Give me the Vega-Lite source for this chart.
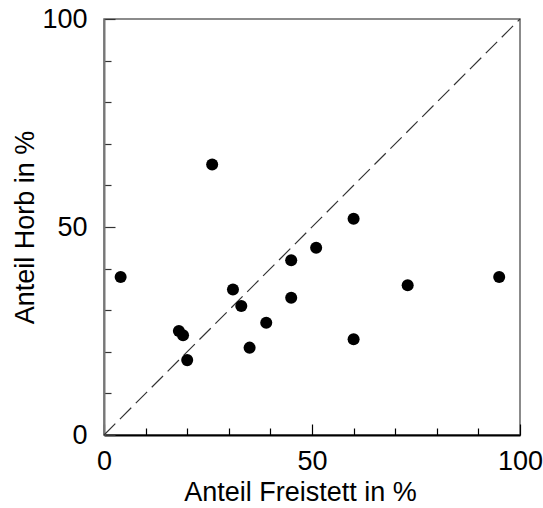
{
  "$schema": "https://vega.github.io/schema/vega-lite/v6.json",
  "width": 416,
  "height": 416,
  "autosize": "none",
  "padding": {"left": 104, "top": 19, "right": 23, "bottom": 73},
  "config": {
    "font": "Liberation Sans",
    "view": {"stroke": "#666666", "strokeWidth": 1.5},
    "axis": {
      "grid": false,
      "labelFlush": false,
      "domainColor": "#000000",
      "domainWidth": 2,
      "tickColor": "#000000",
      "tickWidth": 1.2,
      "labelColor": "#000000",
      "titleColor": "#000000",
      "labelFontSize": 27,
      "titleFontSize": 27,
      "titleFontWeight": "normal",
      "labelFont": "Liberation Sans",
      "titleFont": "Liberation Sans"
    }
  },
  "layer": [
    {
      "data": {"values": [{"a": 0, "b": 0}, {"a": 100, "b": 100}]},
      "mark": {"type": "line", "strokeDash": [16, 6.5], "color": "#333333", "strokeWidth": 1.2},
      "encoding": {
        "x": {"field": "a", "type": "quantitative", "scale": {"domain": [0, 100], "nice": false}},
        "y": {"field": "b", "type": "quantitative", "scale": {"domain": [0, 100], "nice": false}}
      }
    },
    {
      "data": {
        "values": [
          {"freistett": 4, "horb": 38},
          {"freistett": 26, "horb": 65},
          {"freistett": 60, "horb": 52},
          {"freistett": 51, "horb": 45},
          {"freistett": 45, "horb": 42},
          {"freistett": 31, "horb": 35},
          {"freistett": 33, "horb": 31},
          {"freistett": 45, "horb": 33},
          {"freistett": 39, "horb": 27},
          {"freistett": 18, "horb": 25},
          {"freistett": 19, "horb": 24},
          {"freistett": 20, "horb": 18},
          {"freistett": 35, "horb": 21},
          {"freistett": 60, "horb": 23},
          {"freistett": 73, "horb": 36},
          {"freistett": 95, "horb": 38}
        ]
      },
      "mark": {"type": "circle", "size": 145, "color": "#000000", "opacity": 1},
      "encoding": {
        "x": {
          "field": "freistett", "type": "quantitative",
          "scale": {"domain": [0, 100], "nice": false},
          "axis": {
            "title": "Anteil Freistett in %",
            "values": [0, 10, 20, 30, 40, 50, 60, 70, 80, 90, 100],
            "labelExpr": "datum.value % 50 === 0 ? datum.label : ''",
            "tickSize": {"condition": {"test": "datum.value % 50 === 0", "value": -11}, "value": -7},
            "labelPadding": 24,
            "titlePadding": 5,
            "titleX": 196
          }
        },
        "y": {
          "field": "horb", "type": "quantitative",
          "scale": {"domain": [0, 100], "nice": false},
          "axis": {
            "title": "Anteil Horb in %",
            "values": [0, 10, 20, 30, 40, 50, 60, 70, 80, 90, 100],
            "labelExpr": "datum.value % 50 === 0 ? datum.label : ''",
            "tickSize": {"condition": {"test": "datum.value % 50 === 0", "value": -11}, "value": -7},
            "domainColor": "#777777",
            "tickColor": "#333333",
            "labelPadding": 28,
            "titlePadding": 2
          }
        }
      }
    }
  ]
}
